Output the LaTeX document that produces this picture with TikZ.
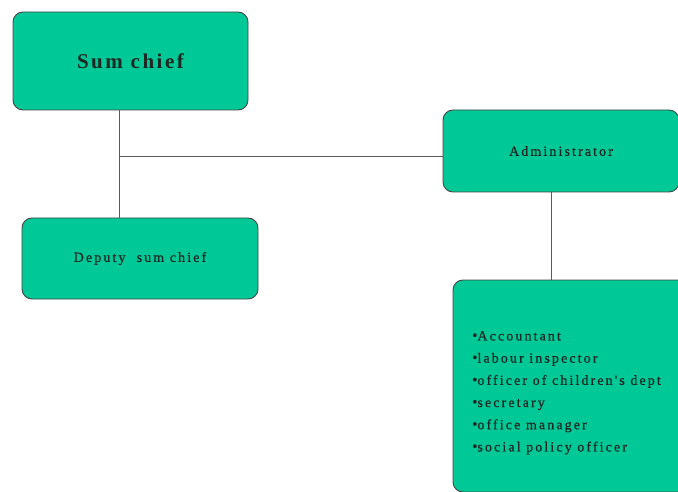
\documentclass[tikz,border=0pt]{standalone}
\usepackage{fontspec}
\setmainfont{Liberation Serif}
\newfontfamily\spaced[LetterSpace=15,FakeBold=0.6]{Liberation Serif}
\newfontfamily\boldspaced[LetterSpace=12]{Liberation Serif}
\definecolor{boxgreen}{RGB}{0,200,150}
\definecolor{edgegray}{RGB}{70,70,70}
\definecolor{linegray}{RGB}{90,90,90}
\definecolor{textdark}{RGB}{30,40,35}
\tikzset{
  orgbox/.style={draw=edgegray, line width=0.9pt, fill=boxgreen, rounded corners=10pt, inner sep=0pt},
  conn/.style={draw=linegray, line width=0.8pt},
  bodytext/.style={font=\spaced\fontsize{14}{16}\selectfont, text=textdark}
}
\newcommand{\blt}{\raisebox{0.3pt}{\fontsize{15}{15}\selectfont•}}
\begin{document}
\begin{tikzpicture}[x=1pt,y=-1pt]
\useasboundingbox (0,0) rectangle (678,492);
\clip (0,0) rectangle (678,492);
\fill[white] (0,0) rectangle (678,492);
\node[orgbox, minimum width=235pt, minimum height=98pt, font=\boldspaced\bfseries\fontsize{21}{24}\selectfont, text=textdark] (sum) at (130.5,61) {Sum chief};
\node[orgbox, bodytext, minimum width=236pt, minimum height=81pt] (deputy) at (140,258.5) {Deputy\ \ sum chief};
\node[orgbox, bodytext, minimum width=236pt, minimum height=82pt] (admin) at (561,151) {Administrator};
\node[orgbox, minimum width=260pt, minimum height=212pt] (staff) at (583,386) {};
\node[anchor=north west, align=left, inner sep=0pt, text=textdark, font=\spaced\fontsize{14}{22.2}\selectfont] (list) at (472,331)
  {\blt Accountant\\
   \blt labour inspector\\
   \blt officer of children's dept\\
   \blt secretary\\
   \blt office manager\\
   \blt social policy officer};
\coordinate (j) at (119,156);
\coordinate (k) at (551,156);
\draw[conn] (sum.south -| j) -- (deputy.north -| j);
\draw[conn] (j) -- (admin.west |- j);
\draw[conn] (admin.south -| k) -- (staff.north -| k);
\end{tikzpicture}
\end{document}
